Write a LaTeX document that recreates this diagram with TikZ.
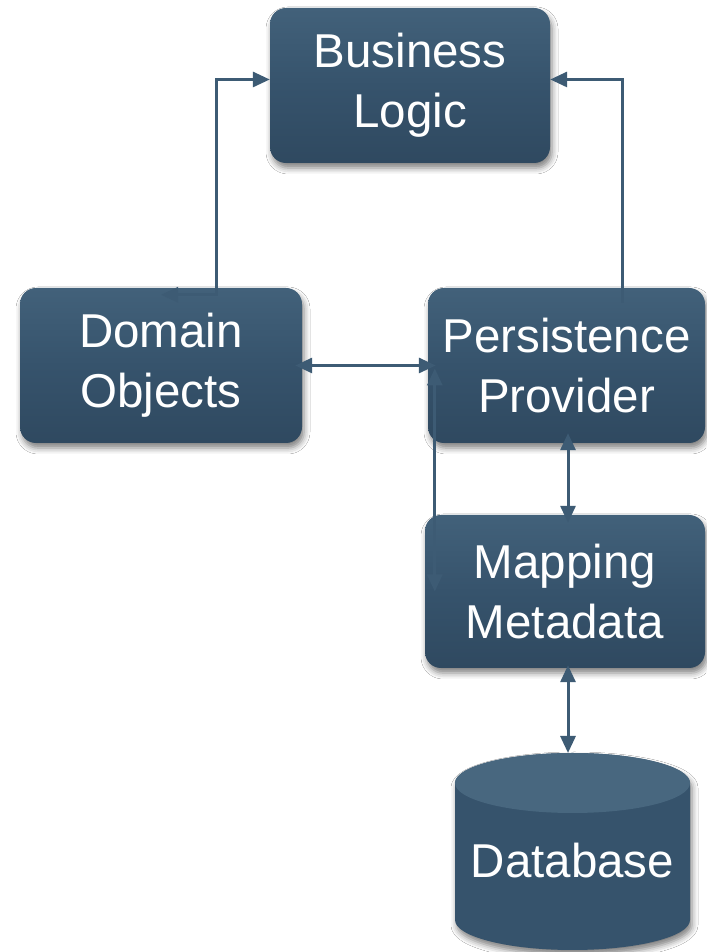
\documentclass[tikz,border=0pt]{standalone}
\usepackage{fontspec}
\setmainfont{Liberation Sans}
\usetikzlibrary{arrows.meta,shadows.blur}
\definecolor{boxfill}{HTML}{36536C}
\definecolor{boxtop}{HTML}{42617A}
\definecolor{boxbot}{HTML}{2F4960}
\definecolor{arrowc}{HTML}{3D5B74}
\definecolor{dbface}{HTML}{48677F}
\begin{document}
\begin{tikzpicture}[x=1pt,y=1pt,
  block/.style={rectangle, rounded corners=16pt, top color=boxtop, bottom color=boxbot, middle color=boxfill,
    text=white, font=\fontsize{47.5}{60}\selectfont, align=center, inner sep=0pt,
    blur shadow={shadow xshift=2pt, shadow yshift=-5pt, shadow blur radius=6pt, shadow opacity=50}},
  conn/.style={draw=arrowc, line width=3pt},
  >={Triangle[length=17pt,width=15pt]}]
\useasboundingbox (0,0) rectangle (706,952);
\fill[white] (0,0) rectangle (706,952);

% boxes
\node[block, minimum width=280pt, minimum height=155pt] (bl) at (410,866.5) {Business\\Logic};
\node[block, minimum width=282pt, minimum height=155pt] (do) at (161,586.5) {Domain\\Objects};
\node[block, minimum width=277pt, minimum height=155pt] (pp) at (566.5,586.5) {Persistence\\Provider};
\node[block, minimum width=280pt, minimum height=153pt] (mm) at (565,360.5) {Mapping\\Metadata};

% database cylinder
\fill[boxfill, blur shadow={shadow xshift=2pt, shadow yshift=-5pt, shadow blur radius=6pt, shadow opacity=50}]
  (455,169) -- (455,32) arc[start angle=180,end angle=360,x radius=117.5,y radius=30]
  -- (690,169) arc[start angle=0,end angle=180,x radius=117.5,y radius=30] -- cycle;
\fill[dbface] (572.5,169) ellipse[x radius=117.5, y radius=30];
\node[text=white, font=\fontsize{47.5}{60}\selectfont, inner sep=0pt] (db) at (572.5,91.5) {Database};
\coordinate (dbin) at (568,199);

% connectors
\draw[conn,<->] ([yshift=6pt]bl.west) -- ++(-53,0) |- ([yshift=-7pt]do.north);
\draw[conn,->] ([xshift=55.5pt,yshift=-15pt]pp.north) |- ([yshift=6pt]bl.east);
\draw[conn,<->] ([xshift=-7pt]do.east) -- ([xshift=8pt]pp.west);
\draw[conn,<->] ([xshift=7pt,yshift=-3pt]pp.west) -- ([xshift=10pt]mm.west);
\draw[conn,<->] ([xshift=1.5pt,yshift=10pt]pp.south) -- ([xshift=3pt,yshift=-8pt]mm.north);
\draw[conn,<->] ([xshift=3pt,yshift=3pt]mm.south) -- (dbin);
\end{tikzpicture}
\end{document}
